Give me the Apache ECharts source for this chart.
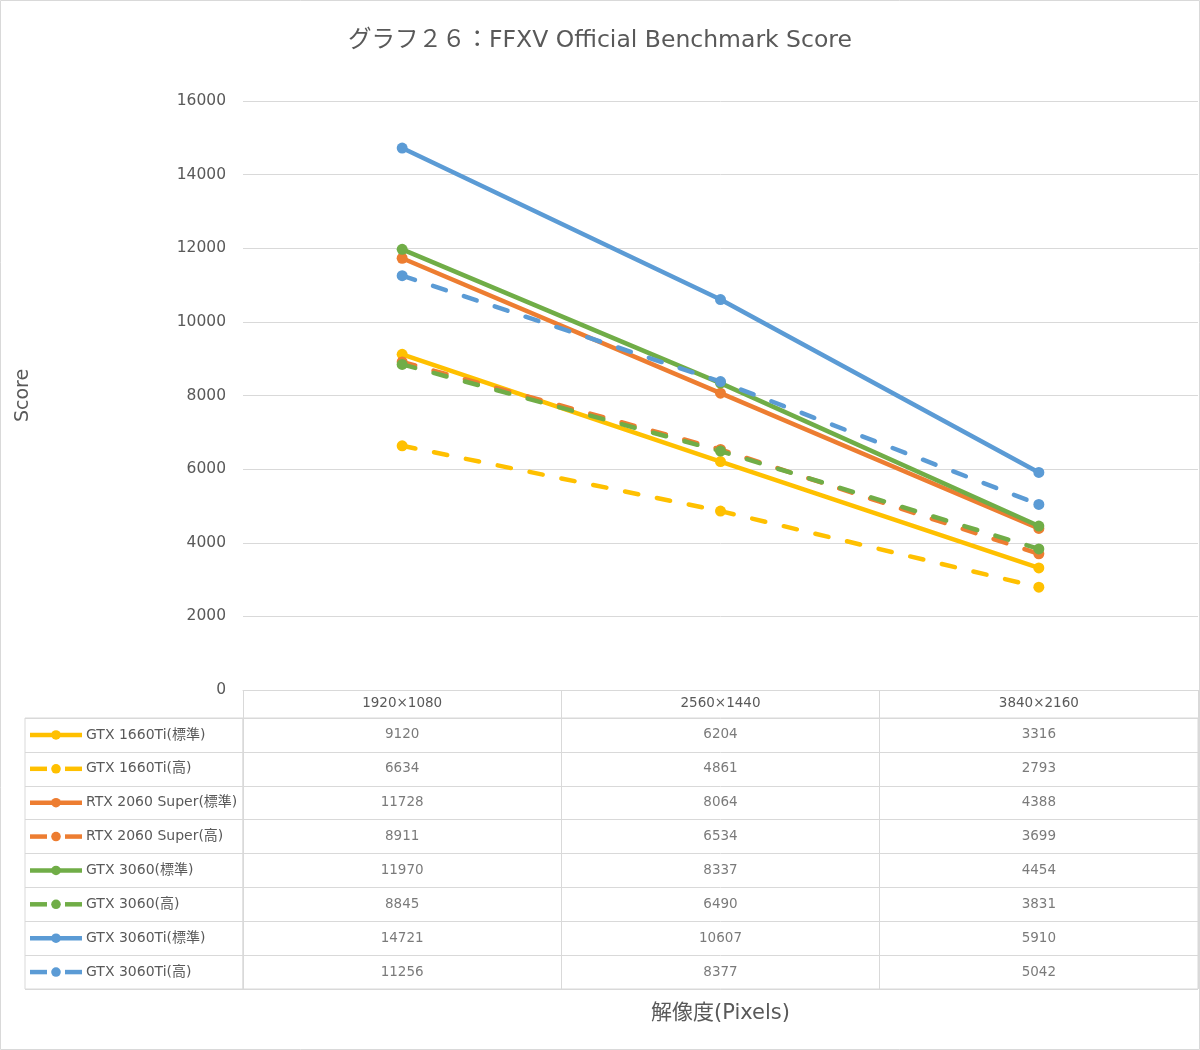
<!DOCTYPE html>
<html><head><meta charset="utf-8">
<script src="https://cdn.jsdelivr.net/npm/echarts@6/dist/echarts.min.js"></script>
<style>html,body{margin:0;padding:0;background:#fff}#c{width:1200px;height:1050px}</style>
</head><body><div id="c"></div>
<script>
const categories = ['1920×1080', '2560×1440', '3840×2160'];
const seriesNames = ['GTX 1660Ti(標準)', 'GTX 1660Ti(高)', 'RTX 2060 Super(標準)', 'RTX 2060 Super(高)', 'GTX 3060(標準)', 'GTX 3060(高)', 'GTX 3060Ti(標準)', 'GTX 3060Ti(高)'];
const gtx1660tiStd = [9120, 6204, 3316];
const gtx1660tiHigh = [6634, 4861, 2793];
const rtx2060sStd = [11728, 8064, 4388];
const rtx2060sHigh = [8911, 6534, 3699];
const gtx3060Std = [11970, 8337, 4454];
const gtx3060High = [8845, 6490, 3831];
const gtx3060tiStd = [14721, 10607, 5910];
const gtx3060tiHigh = [11256, 8377, 5042];
const yTicks = [0, 2000, 4000, 6000, 8000, 10000, 12000, 14000, 16000];

const allValues = [gtx1660tiStd, gtx1660tiHigh, rtx2060sStd, rtx2060sHigh, gtx3060Std, gtx3060High, gtx3060tiStd, gtx3060tiHigh];
const colors = ['#FFC000', '#FFC000', '#ED7D31', '#ED7D31', '#70AD47', '#70AD47', '#5B9BD5', '#5B9BD5'];
const dashed = [false, true, false, true, false, true, false, true];

const FONT = '"DejaVu Sans", "Noto Sans CJK JP", sans-serif';
const TXT = '#595959';
const GRID = '#d9d9d9';

const lineSeries = seriesNames.map((n, i) => ({
  name: n, type: 'line', xAxisIndex: 0, yAxisIndex: 0,
  data: allValues[i], symbol: 'circle', symbolSize: 11,
  color: colors[i],
  lineStyle: { width: 4.5, color: colors[i], type: dashed[i] ? [13.5, 19] : 'solid', cap: dashed[i] ? 'round' : 'butt' },
  itemStyle: { color: colors[i] },
  emphasis: { disabled: true }, z: 3
}));

const tableData = [];
allValues.forEach((vals, r) => vals.forEach((v, c) => tableData.push([c, r, v])));
const legendRows = seriesNames.map((n, i) => [0, i]);

function renderKey(params, api) {
  const i = api.value(1);
  const y = api.coord([0, i])[1];
  const x = (v) => api.coord([v, i])[0];
  const col = colors[i];
  const els = [];
  const ls = { stroke: col, lineWidth: 4.5, lineCap: 'butt' };
  if (dashed[i]) {
    els.push({ type: 'line', shape: { x1: x(5), y1: y, x2: x(22), y2: y }, style: ls });
    els.push({ type: 'line', shape: { x1: x(40), y1: y, x2: x(57), y2: y }, style: ls });
  } else {
    els.push({ type: 'line', shape: { x1: x(5), y1: y, x2: x(57), y2: y }, style: ls });
  }
  els.push({ type: 'circle', shape: { cx: x(31), cy: y, r: 4.8 }, style: { fill: col } });
  els.push({ type: 'text', x: x(61), y: y, style: { text: seriesNames[i], fill: TXT, font: '14px ' + FONT, textVerticalAlign: 'middle', verticalAlign: 'middle', textAlign: 'left', align: 'left' } });
  return { type: 'group', children: els };
}

const option = {
  animation: false,
  textStyle: { fontFamily: FONT },
  title: {
    text: 'グラフ２６：FFXV Official Benchmark Score', left: 'center', top: 24,
    textStyle: { fontFamily: FONT, fontSize: 23.5, fontWeight: 'normal', color: TXT }
  },
  grid: [
    { left: 243, top: 101, width: 955, height: 589 },
    { left: 243, top: 718, width: 955, height: 271, show: true, borderColor: GRID, borderWidth: 1 },
    { left: 25, top: 718, width: 218, height: 271, show: true, borderColor: GRID, borderWidth: 1 }
  ],
  xAxis: [
    { type: 'category', gridIndex: 0, data: categories, boundaryGap: true,
      axisLine: { lineStyle: { color: GRID, width: 1 } },
      axisTick: { show: true, length: 28, interval: 0, lineStyle: { color: GRID } },
      axisLabel: { color: TXT, fontSize: 13.5, margin: 7, fontFamily: FONT } },
    { type: 'category', gridIndex: 1, data: categories, boundaryGap: true, position: 'bottom',
      axisLine: { show: false }, axisTick: { show: false }, axisLabel: { show: false },
      splitLine: { show: true, interval: 0, lineStyle: { color: GRID } },
      name: '解像度(Pixels)', nameLocation: 'middle', nameGap: 14,
      nameTextStyle: { fontSize: 21, color: TXT, fontFamily: FONT } },
    { type: 'value', gridIndex: 2, min: 0, max: 218, show: false }
  ],
  yAxis: [
    { type: 'value', gridIndex: 0, min: 0, max: 16000, interval: 2000,
      axisLine: { show: false }, axisTick: { show: false },
      axisLabel: { color: TXT, fontSize: 15.5, margin: 17, fontFamily: FONT, formatter: v => String(v) },
      splitLine: { lineStyle: { color: GRID, width: 1 } },
      name: 'Score', nameLocation: 'middle', nameGap: 210, nameRotate: 90,
      nameTextStyle: { fontSize: 19, color: TXT, fontFamily: FONT } },
    { type: 'category', gridIndex: 1, data: seriesNames, inverse: true,
      axisLine: { show: false }, axisTick: { show: false }, axisLabel: { show: false },
      splitLine: { show: true, interval: 0, lineStyle: { color: GRID } } },
    { type: 'category', gridIndex: 2, data: seriesNames, inverse: true,
      axisLine: { show: false }, axisTick: { show: false }, axisLabel: { show: false },
      splitLine: { show: true, interval: 0, lineStyle: { color: GRID } } }
  ],
  series: lineSeries.concat([{
    name: 'table', type: 'scatter', xAxisIndex: 1, yAxisIndex: 1,
    data: tableData, symbolSize: 1, itemStyle: { color: 'rgba(0,0,0,0)' },
    label: { show: true, position: 'inside', formatter: p => String(p.value[2]),
      color: TXT, fontSize: 13.5, fontFamily: FONT },
    emphasis: { disabled: true }, silent: true
  }, {
    name: 'keys', type: 'custom', xAxisIndex: 2, yAxisIndex: 2,
    data: legendRows, renderItem: renderKey, silent: true, clip: false
  }]),
  graphic: [{ type: 'rect', shape: { x: 0.5, y: 0.5, width: 1199, height: 1049 },
    style: { fill: 'none', stroke: GRID, lineWidth: 1 }, silent: true }]
};
const chart = echarts.init(document.getElementById('c'), null, { renderer: 'canvas' });
chart.setOption(option);
</script></body></html>
